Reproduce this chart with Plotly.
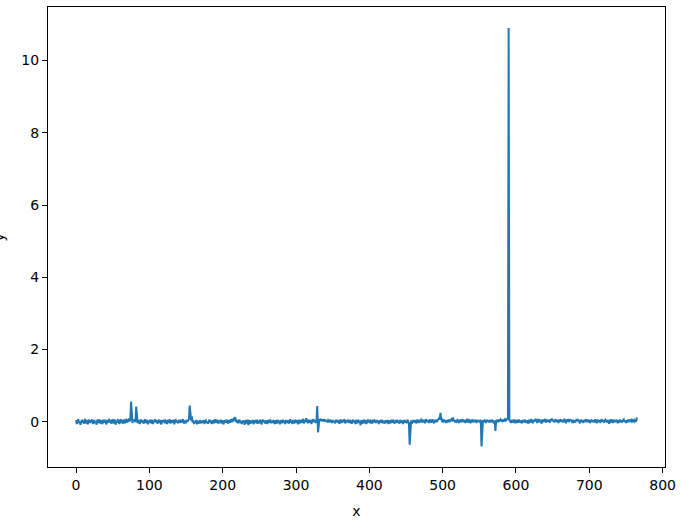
import plotly.graph_objects as go

y_values = [
    0.05,-0.06,0.02,0.07,-0.03,0.01,-0.08,0.04,0.06,-0.02,0.03,-0.05,0.08,0.00,-0.04,0.05,-0.07,0.02,0.06,-0.03,
    0.04,-0.01,0.07,-0.06,0.03,0.05,-0.04,0.01,-0.08,0.06,0.02,-0.03,0.07,-0.05,0.04,0.00,-0.06,0.05,0.03,-0.02,
    0.06,-0.07,0.02,0.04,-0.03,0.08,-0.01,0.05,-0.05,0.03,0.07,-0.04,0.01,0.06,-0.08,0.03,-0.02,0.05,0.04,-0.06,
    0.02,0.07,-0.03,0.05,-0.05,0.01,0.06,-0.04,0.08,0.03,-0.02,0.04,0.09,0.02,0.05,0.56,0.04,-0.03,0.06,0.02,
    0.07,-0.01,0.42,0.03,-0.04,0.05,0.01,-0.06,0.03,0.06,-0.02,0.04,-0.05,0.02,0.07,-0.03,0.01,0.05,-0.07,0.03,
    -0.01,0.06,-0.04,0.02,0.05,-0.06,0.03,0.00,0.07,-0.02,0.04,-0.05,0.01,0.06,-0.03,0.05,-0.07,0.02,0.04,-0.01,
    0.06,-0.04,0.03,0.01,-0.06,0.05,0.02,-0.03,0.07,-0.05,0.04,0.00,-0.02,0.06,-0.07,0.03,0.05,-0.01,0.02,-0.04,
    0.05,0.01,-0.03,0.06,-0.02,0.04,0.07,-0.05,0.02,0.03,-0.04,0.06,0.01,0.05,0.08,0.45,0.06,0.03,0.15,-0.02,
    0.04,-0.06,0.01,-0.03,0.05,-0.07,0.02,0.00,-0.05,0.04,0.01,-0.04,0.03,-0.02,0.05,-0.06,0.02,0.04,-0.03,0.01,
    -0.05,0.03,0.06,-0.02,0.04,-0.06,0.01,0.05,-0.04,0.02,0.07,-0.03,0.00,0.05,-0.05,0.03,-0.01,0.06,-0.04,0.02,
    0.04,-0.07,0.03,0.05,-0.02,0.01,0.06,-0.05,0.02,0.04,-0.03,0.07,-0.01,0.05,0.03,0.08,0.06,0.13,0.04,-0.02,
    0.05,-0.04,0.02,0.06,-0.03,0.01,-0.06,0.04,-0.02,0.03,-0.08,0.05,0.00,-0.04,0.06,-0.09,0.02,0.04,-0.05,0.03,
    -0.02,0.05,-0.06,0.01,0.04,-0.03,0.06,-0.05,0.02,0.00,-0.04,0.05,0.03,-0.07,0.02,0.06,-0.01,0.04,-0.05,0.03,
    0.01,-0.06,0.05,-0.02,0.03,0.06,-0.04,0.02,-0.03,0.05,0.00,-0.06,0.04,0.02,-0.05,0.06,-0.02,0.03,-0.07,0.04,
    0.02,-0.04,0.06,-0.01,0.03,-0.06,0.05,0.01,-0.03,0.04,-0.05,0.02,0.07,-0.02,0.03,-0.06,0.05,0.00,-0.04,0.06,
    -0.03,0.04,0.01,-0.07,0.05,0.02,-0.04,0.06,-0.02,0.03,0.08,-0.05,0.04,0.01,0.10,0.02,-0.04,0.06,0.03,-0.02,
    0.05,-0.06,0.03,0.07,-0.01,0.04,0.02,-0.03,0.06,0.44,-0.29,0.05,0.08,0.03,0.06,0.04,0.07,0.02,0.05,0.03,
    0.06,0.01,0.04,-0.02,0.05,0.03,-0.01,0.04,0.02,-0.03,0.05,0.00,0.03,-0.04,0.02,0.06,-0.02,0.04,0.01,-0.05,
    0.03,0.06,-0.03,0.02,0.05,-0.01,0.07,-0.04,0.02,0.04,-0.02,0.06,0.01,-0.03,0.05,0.02,-0.05,0.04,0.06,-0.01,
    0.03,-0.06,0.05,0.01,-0.04,0.06,-0.02,0.03,-0.10,0.04,0.02,-0.05,0.06,0.00,-0.03,0.05,-0.06,0.02,0.04,-0.02,
    0.05,-0.04,0.03,0.01,-0.05,0.06,-0.02,0.04,0.02,-0.03,0.05,-0.01,0.03,-0.06,0.04,0.01,-0.02,0.06,-0.04,0.03,
    0.00,-0.05,0.04,0.02,-0.03,0.05,-0.06,0.03,0.01,-0.04,0.06,-0.02,0.03,0.05,-0.05,0.02,0.04,-0.03,0.06,-0.01,
    0.03,-0.05,0.05,0.01,-0.03,0.04,-0.06,0.02,0.05,-0.02,0.03,-0.04,0.06,0.01,-0.03,-0.63,0.02,0.04,-0.05,0.03,
    0.05,-0.02,0.04,0.01,-0.04,0.06,0.02,-0.03,0.05,0.03,-0.01,0.06,0.04,-0.02,0.05,0.02,-0.04,0.07,0.03,0.00,
    0.05,-0.03,0.04,0.06,-0.02,0.03,0.07,0.01,-0.04,0.05,0.02,0.06,-0.01,0.04,0.08,0.10,0.06,0.25,0.09,0.03,
    0.05,-0.02,0.06,0.01,0.04,-0.03,0.05,0.02,0.06,-0.01,0.04,0.03,0.07,0.05,0.12,0.02,0.06,-0.02,0.04,0.01,
    0.05,0.03,-0.03,0.06,0.02,0.04,-0.01,0.07,0.03,0.00,0.05,-0.03,0.04,0.06,0.01,-0.02,0.05,0.03,-0.04,0.06,
    0.02,0.04,-0.02,0.05,0.01,0.06,-0.03,0.03,0.05,0.00,0.04,-0.02,0.06,-0.68,0.03,0.05,-0.01,0.04,0.02,-0.03,
    0.06,0.01,0.04,-0.02,0.05,0.03,-0.01,0.06,0.02,0.04,-0.05,0.03,-0.25,0.05,0.02,0.06,-0.01,0.04,0.03,0.07,
    0.05,0.02,0.06,0.01,0.04,0.07,0.03,0.05,0.08,0.06,10.90,0.04,0.02,-0.03,0.05,0.01,-0.02,0.06,0.03,-0.04,
    0.05,0.01,-0.03,0.04,0.06,-0.02,0.03,0.00,-0.04,0.05,0.02,-0.01,0.06,0.03,-0.03,0.04,0.01,-0.05,0.06,0.02,
    -0.02,0.05,0.03,-0.04,0.06,0.01,0.04,0.08,0.02,-0.03,0.05,0.07,-0.01,0.04,0.02,-0.05,0.06,0.03,0.00,0.05,
    0.08,-0.02,0.04,0.06,0.01,0.05,-0.03,0.07,0.03,0.09,0.02,0.06,-0.01,0.04,0.07,0.00,0.05,0.02,-0.03,0.06,
    0.03,0.07,0.01,0.05,-0.02,0.04,0.08,0.02,-0.04,0.06,0.03,0.05,-0.01,0.04,0.07,0.02,0.06,-0.03,0.05,0.01,
    0.04,-0.02,0.06,0.03,0.08,0.01,0.05,-0.04,0.03,0.06,0.00,0.04,-0.03,0.05,0.02,0.07,-0.01,0.04,0.06,0.02,
    0.05,-0.03,0.03,0.06,0.01,0.04,-0.02,0.05,0.07,0.02,-0.04,0.06,0.03,0.00,0.05,-0.03,0.04,0.07,0.01,0.05,
    -0.02,0.04,0.06,0.03,-0.01,0.05,0.02,-0.05,0.04,0.07,0.01,0.03,-0.03,0.06,0.02,0.05,-0.01,0.04,0.03,-0.04,
    0.05,0.02,0.06,-0.02,0.04,0.01,0.05,0.07,0.00,0.03,-0.03,0.05,0.02,0.06,-0.01,0.04,0.03,0.05,-0.02,0.04,
    0.02,0.05,0.01,0.04,0.03,0.12,
]
x_values = list(range(len(y_values)))

x_ticks = [0, 100, 200, 300, 400, 500, 600, 700, 800]
y_ticks = [0, 2, 4, 6, 8, 10]
x_label = "x"
y_label = "y"

font = dict(family="DejaVu Sans", size=14, color="black")

fig = go.Figure()
fig.add_trace(go.Scatter(
    x=x_values, y=y_values, mode="lines",
    line=dict(color="#1f77b4", width=2),
    showlegend=False,
))

axis_common = dict(
    showline=True, linecolor="black", linewidth=1, mirror=True,
    ticks="outside", ticklen=5, tickwidth=1, tickcolor="black",
    showgrid=False, zeroline=False, tickfont=font,
)

fig.update_layout(
    width=682, height=526,
    margin=dict(l=48, r=12, t=6, b=59),
    paper_bgcolor="white", plot_bgcolor="white",
    font=font,
    xaxis=dict(range=[-38.25, 803.25], tickvals=x_ticks,
               title=dict(text=x_label, font=font, standoff=14), **axis_common),
    yaxis=dict(range=[-1.25, 11.48], tickvals=y_ticks, **axis_common),
    annotations=[dict(
        text=y_label, textangle=-90, xref="paper", yref="paper",
        x=-(48 + 11) / 622, y=0.5, xanchor="left", yanchor="middle",
        showarrow=False, font=font,
    )],
)

fig.write_html(
    "out.html",
    config={"displayModeBar": False},
    post_script="document.body.style.margin='0';document.body.style.overflow='hidden';",
)
